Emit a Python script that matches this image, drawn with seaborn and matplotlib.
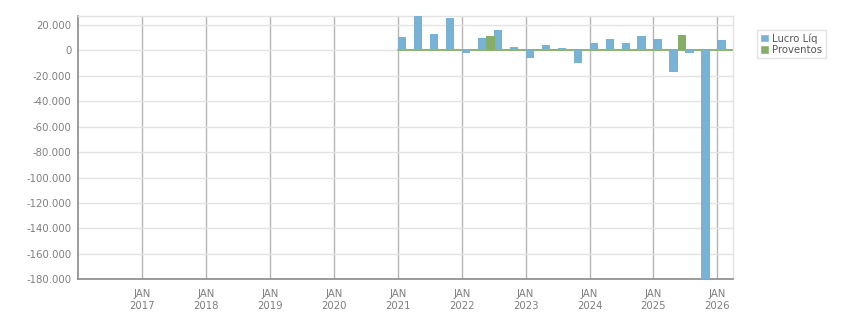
import matplotlib
matplotlib.use("Agg")
import matplotlib.pyplot as plt
from matplotlib.patches import Patch
import pandas as pd
import seaborn as sns

# trimestres de 2021T1 a 2026T1
quarters = [2021 + i * 0.25 for i in range(21)]
lucro_liq = [10500, 27500, 12800, 25600, -2100, 9700, 16000, 2600, -6100, 4200, 1800,
             -9700, 5700, 8900, 5700, 11200, 8900, -16800, -2100, -180000, 8100]
proventos = [0, 0, 0, 0, 0, 11500, 0, 0, 0, 1000, 0,
             0, 0, 0, 0, 0, 0, 12000, 0, 0, 0]
years = list(range(2017, 2027))
year_labels = [f"JAN\n{y}" for y in years]
y_ticks = list(range(20000, -180001, -20000))

blue = "#78b3d5"
green = "#87ae68"
grey_txt = "#7f7f7f"

df = pd.DataFrame({
    "x": [round(q + 0.133, 3) for q in quarters] * 2,
    "valor": lucro_liq + proventos,
    "serie": ["Lucro Líq"] * len(quarters) + ["Proventos"] * len(quarters),
})

sns.set_style("white")
plt.rcParams["font.family"] = ["DejaVu Sans"]

fig = plt.figure(figsize=(8.51, 3.13), dpi=100)
ax = fig.add_axes([0.092, 0.1077, 0.7697, 0.8412])

sns.barplot(data=df, x="x", y="valor", hue="serie", native_scale=True,
            palette={"Lucro Líq": blue, "Proventos": green}, width=1.06,
            errorbar=None, saturation=1, legend=False, ax=ax, zorder=3,
            linewidth=0, edgecolor="none")

ax.set_xlim(2016.0, 2026.25)
ax.set_ylim(-180000, 27000)
ax.set_xticks(years)
ax.set_xticklabels(year_labels)
ax.set_yticks(y_ticks)
ax.set_yticklabels([f"{v:,}".replace(",", ".") for v in y_ticks])
ax.set_xlabel("")
ax.set_ylabel("")

ax.grid(axis="y", color="#e3e3e3", linewidth=1, zorder=0)
ax.grid(axis="x", color="#b5b5b5", linewidth=1, zorder=1)
ax.set_axisbelow(True)
ax.plot([2021, 2026.25], [0, 0], color=green, linewidth=1.3, zorder=2)

for s in ["left", "bottom"]:
    ax.spines[s].set_color("#8a8a8a")
    ax.spines[s].set_linewidth(1.2)
for s in ["top", "right"]:
    ax.spines[s].set_color("#e3e3e3")
    ax.spines[s].set_linewidth(1)

ax.tick_params(axis="both", colors="#8a8a8a", labelcolor=grey_txt, labelsize=7.3,
               length=4, width=1, direction="out")
ax.tick_params(axis="x", pad=3)
ax.tick_params(axis="y", pad=1)

handles = [Patch(facecolor=blue, label="Lucro Líq"), Patch(facecolor=green, label="Proventos")]
leg = fig.legend(handles=handles, loc="upper left", bbox_to_anchor=(0.889, 0.905),
                 frameon=True, fancybox=False, fontsize=7.3, handlelength=0.9,
                 handleheight=0.9, handletextpad=0.3, borderpad=0.35, labelspacing=0.1,
                 borderaxespad=0)
leg.get_frame().set_edgecolor("#dcdcdc")
leg.get_frame().set_linewidth(1)
for t in leg.get_texts():
    t.set_color("#555555")

fig.savefig("out.png", dpi=100)
